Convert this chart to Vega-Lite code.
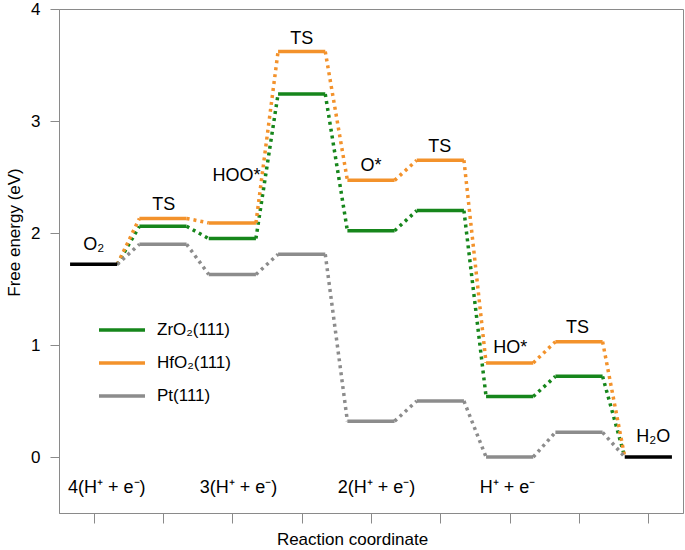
{
  "$schema": "https://vega.github.io/schema/vega-lite/v6.json",
  "width": 624,
  "height": 504,
  "autosize": {"type": "none"},
  "padding": {"left": 59, "top": 9, "right": 2, "bottom": 37},
  "config": {
    "font": "Liberation Sans",
    "view": {"stroke": "#8a8a8a", "strokeWidth": 1},
    "axis": {
      "domainColor": "#8a8a8a",
      "tickColor": "#8a8a8a",
      "grid": false,
      "labelFont": "Liberation Sans",
      "titleFont": "Liberation Sans",
      "labelFontSize": 17,
      "titleFontSize": 17,
      "titleFontWeight": "normal",
      "labelColor": "black",
      "titleColor": "black"
    },
    "text": {"font": "Liberation Sans", "fontSize": 17, "color": "black"}
  },
  "datasets": {
    "energies": [
      {"surface": "ZrO₂(111)", "step": 1, "energy": 1.72},
      {"surface": "ZrO₂(111)", "step": 2, "energy": 2.06},
      {"surface": "ZrO₂(111)", "step": 3, "energy": 1.95},
      {"surface": "ZrO₂(111)", "step": 4, "energy": 3.24},
      {"surface": "ZrO₂(111)", "step": 5, "energy": 2.02},
      {"surface": "ZrO₂(111)", "step": 6, "energy": 2.2},
      {"surface": "ZrO₂(111)", "step": 7, "energy": 0.54},
      {"surface": "ZrO₂(111)", "step": 8, "energy": 0.72},
      {"surface": "ZrO₂(111)", "step": 9, "energy": 0},
      {"surface": "HfO₂(111)", "step": 1, "energy": 1.72},
      {"surface": "HfO₂(111)", "step": 2, "energy": 2.13},
      {"surface": "HfO₂(111)", "step": 3, "energy": 2.09},
      {"surface": "HfO₂(111)", "step": 4, "energy": 3.62},
      {"surface": "HfO₂(111)", "step": 5, "energy": 2.47},
      {"surface": "HfO₂(111)", "step": 6, "energy": 2.65},
      {"surface": "HfO₂(111)", "step": 7, "energy": 0.84},
      {"surface": "HfO₂(111)", "step": 8, "energy": 1.03},
      {"surface": "HfO₂(111)", "step": 9, "energy": 0},
      {"surface": "Pt(111)", "step": 1, "energy": 1.72},
      {"surface": "Pt(111)", "step": 2, "energy": 1.9},
      {"surface": "Pt(111)", "step": 3, "energy": 1.63},
      {"surface": "Pt(111)", "step": 4, "energy": 1.81},
      {"surface": "Pt(111)", "step": 5, "energy": 0.32},
      {"surface": "Pt(111)", "step": 6, "energy": 0.5},
      {"surface": "Pt(111)", "step": 7, "energy": 0},
      {"surface": "Pt(111)", "step": 8, "energy": 0.22},
      {"surface": "Pt(111)", "step": 9, "energy": 0}
    ],
    "ends": [
      {"step": 1, "energy": 1.72},
      {"step": 9, "energy": 0}
    ],
    "labels": [
      {"text": "O₂", "step": 1.0, "energy": 1.89},
      {"text": "TS", "step": 2.01, "energy": 2.25},
      {"text": "HOO*", "step": 3.06, "energy": 2.51},
      {"text": "TS", "step": 4.0, "energy": 3.73},
      {"text": "O*", "step": 5.0, "energy": 2.6},
      {"text": "TS", "step": 5.99, "energy": 2.77},
      {"text": "HO*", "step": 7.01, "energy": 0.97},
      {"text": "TS", "step": 7.98, "energy": 1.15},
      {"text": "H₂O", "step": 9.07, "energy": 0.18},
      {"text": "4(H⁺ + e⁻)", "step": 1.19, "energy": -0.28},
      {"text": "3(H⁺ + e⁻)", "step": 3.09, "energy": -0.28},
      {"text": "2(H⁺ + e⁻)", "step": 5.08, "energy": -0.28},
      {"text": "H⁺ + e⁻", "step": 6.97, "energy": -0.28}
    ]
  },
  "encoding": {
    "x": {
      "field": "step",
      "type": "quantitative",
      "scale": {"domain": [0.5, 9.5], "nice": false, "zero": false},
      "axis": {
        "title": "Reaction coordinate",
        "values": [1, 2, 3, 4, 5, 6, 7, 8, 9],
        "labels": false,
        "tickSize": 10,
        "titlePadding": 8,
        "titleX": 293
      }
    },
    "y": {
      "field": "energy",
      "type": "quantitative",
      "scale": {"domain": [-0.5, 4], "nice": false, "zero": false},
      "axis": {
        "title": "Free energy (eV)",
        "values": [0, 0.5, 1, 1.5, 2, 2.5, 3, 3.5, 4],
        "format": "d",
        "labelExpr": "datum.value % 1 == 0 ? datum.label : ''",
        "tickSize": 9,
        "labelPadding": 10,
        "titlePadding": 7,
        "titleY": 223
      }
    }
  },
  "layer": [
    {
      "data": {"name": "energies"},
      "transform": [
        {
          "window": [
            {"op": "lead", "field": "step", "as": "next_step"},
            {"op": "lead", "field": "energy", "as": "next_energy"}
          ],
          "groupby": ["surface"],
          "sort": [{"field": "step", "order": "ascending"}]
        },
        {"filter": "isValid(datum.next_step)"}
      ],
      "mark": {
        "type": "rule",
        "strokeWidth": 3.5,
        "strokeDash": [3, 4],
        "xOffset": 23.6,
        "x2Offset": -23.6
      },
      "encoding": {
        "x2": {"field": "next_step"},
        "y2": {"field": "next_energy"},
        "color": {"field": "surface", "type": "nominal"}
      }
    },
    {
      "data": {"name": "energies"},
      "transform": [{"filter": "datum.step > 1 && datum.step < 9"}],
      "mark": {
        "type": "rule",
        "strokeWidth": 3.5,
        "strokeCap": "butt",
        "xOffset": -23.6,
        "x2Offset": 23.6
      },
      "encoding": {
        "x2": {"field": "step"},
        "y2": {"field": "energy"},
        "color": {
          "field": "surface",
          "type": "nominal",
          "scale": {
            "domain": ["ZrO₂(111)", "HfO₂(111)", "Pt(111)"],
            "range": ["#16861b", "#f3922b", "#8c8c8c"]
          },
          "legend": {
            "orient": "none",
            "legendX": 38,
            "legendY": 296,
            "title": null,
            "symbolType": "stroke",
            "symbolSize": 2116,
            "symbolStrokeWidth": 3.5,
            "symbolDash": [1, 0],
            "labelFontSize": 17,
            "labelFont": "Liberation Sans",
            "labelColor": "black",
            "labelOffset": 10,
            "rowPadding": 0
          }
        }
      }
    },
    {
      "data": {"name": "ends"},
      "mark": {
        "type": "rule",
        "strokeWidth": 3.5,
        "color": "black",
        "xOffset": -23.6,
        "x2Offset": 23.6
      },
      "encoding": {
        "x2": {"field": "step"},
        "y2": {"field": "energy"}
      }
    },
    {
      "data": {"name": "labels"},
      "mark": {"type": "text", "baseline": "middle", "align": "center", "fontSize": 18},
      "encoding": {
        "text": {"field": "text"}
      }
    }
  ]
}
